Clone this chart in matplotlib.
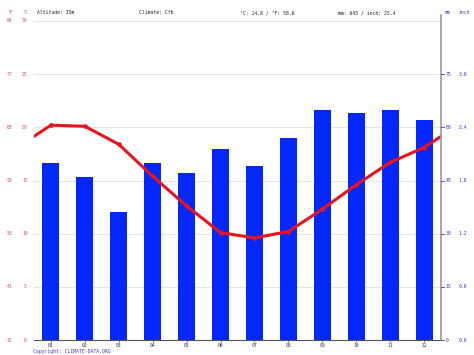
import numpy as np
import matplotlib.pyplot as plt
from matplotlib.lines import Line2D

# climate data
months = ['01', '02', '03', '04', '05', '06', '07', '08', '09', '10', '11', '12']
temp_c = [20.2, 20.1, 18.4, 15.4, 12.6, 10.1, 9.6, 10.2, 12.3, 14.6, 16.7, 18.1]
precip_mm = [50, 46, 36, 50, 47, 54, 49, 57, 65, 64, 65, 62]

c_ticks = [0, 5, 10, 15, 20, 25, 30]
f_labels = ['32', '41', '50', '59', '68', '77', '86']
mm_ticks = [0, 15, 30, 45, 60, 75]
inch_labels = ['0.0', '0.6', '1.2', '1.8', '2.4', '3.0']

header = ['Altitude: 35m', 'Climate: Cfb', '°C: 14.8 / °F: 58.6', 'mm: 645 / inch: 25.4']

W, H = 474, 355
red_txt = '#e0505a'
blue_txt = '#3a3acc'
font = 'DejaVu Sans Mono'
fs = 3.4

fig = plt.figure(figsize=(W / 100, H / 100), dpi=100)
left, right, top, bottom = 34, 441, 21, 340
ax2 = fig.add_axes([left / W, 1 - bottom / H, (right - left) / W, (bottom - top) / H])
ax = ax2.twinx()

x = np.arange(1, 13)

# precipitation bars
ax2.bar(x, precip_mm, width=0.5, color='#0527ff', zorder=2)
ax2.set_ylim(0, 90)
ax2.set_xlim(0.5, 12.5)

# temperature line, wrapped so it runs to the plot edges
xw = np.arange(0, 14)
tw = [temp_c[-1]] + temp_c + [temp_c[0]]
ax.plot(xw, tw, color='#e8141c', lw=2.2, zorder=5, solid_joinstyle='round')
ax.plot(x, temp_c, 'o', color='#e8141c', ms=2.3, zorder=5)
ax.set_ylim(0, 30)
ax.set_xlim(0.5, 12.5)

# grid lines
for c in c_ticks[1:]:
    ax2.axhline(c * 3, color='#e6e6e6', lw=0.8, zorder=1)

for a in (ax, ax2):
    a.set_yticks([])
    for s in ('left', 'top', 'right'):
        a.spines[s].set_visible(False)
ax2.spines['bottom'].set_color('#555555')
ax2.spines['bottom'].set_linewidth(0.8)
ax.spines['bottom'].set_visible(False)

ax2.set_xticks(x)
ax2.set_xticklabels(months, fontsize=fs, family=font, color='#333333')
ax2.tick_params(axis='x', length=1.5, width=0.6, color='#555555', pad=0.8)

# right axis line
fig.add_artist(Line2D([right / W, right / W], [1 - bottom / H, 1 - 15 / H],
                      color='#999999', lw=1.2))

# left tick labels
for c, f in zip(c_ticks, f_labels):
    yy = 1 - (bottom - c * (bottom - top) / 30) / H
    fig.text(10 / W, yy, f, fontsize=fs, family=font, color=red_txt, ha='center', va='center')
    fig.text(25 / W, yy, str(c), fontsize=fs, family=font, color=red_txt, ha='center', va='center')

# right tick labels
for m, inch in zip(mm_ticks, inch_labels):
    yy = 1 - (bottom - m * (bottom - top) / 90) / H
    fig.text(445.5 / W, yy, str(m), fontsize=fs, family=font, color=blue_txt, ha='left', va='center')
    fig.text(463 / W, yy, inch, fontsize=fs, family=font, color=blue_txt, ha='center', va='center')
    fig.add_artist(Line2D([right / W, (right + 2.5) / W], [yy, yy], color=blue_txt, lw=0.6))

# header line
hy = 1 - 13 / H
fig.text(10 / W, hy, '°F', fontsize=fs, family=font, color=red_txt, ha='center', va='center')
fig.text(25 / W, hy, '°C', fontsize=fs, family=font, color=red_txt, ha='center', va='center')
fig.text(448 / W, hy, 'mm', fontsize=fs, family=font, color=blue_txt, ha='center', va='center')
fig.text(464 / W, hy, 'inch', fontsize=fs, family=font, color=blue_txt, ha='center', va='center')
for xp, t in zip([37, 139, 240, 338], header):
    fig.text(xp / W, hy, t, fontsize=fs, family=font, color='#222222', ha='left', va='center')

fig.text(33 / W, 1 - 351 / H, 'Copyright: CLIMATE-DATA.ORG', fontsize=fs,
         family=font, color='#3a3acc', ha='left', va='center')

fig.savefig('out.png', dpi=100)
